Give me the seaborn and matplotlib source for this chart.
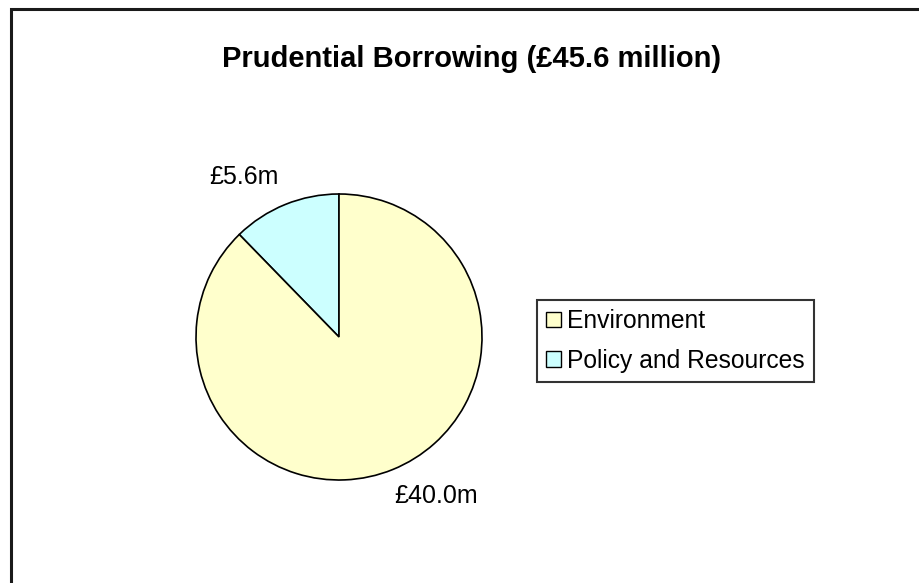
import numpy as np
import matplotlib
matplotlib.use("Agg")
import matplotlib.pyplot as plt
import seaborn as sns
from matplotlib.patches import Patch, Rectangle

# Data
title = "Prudential Borrowing (£45.6 million)"
categories = ["Environment", "Policy and Resources"]
values = [40.0, 5.6]
value_labels = ["£40.0m", "£5.6m"]
colors = ["#FFFFCC", "#CCFFFF"]

sns.set_theme(style="white")
plt.rcParams["font.family"] = ["Liberation Sans", "DejaVu Sans"]
plt.rcParams["text.color"] = "black"

W, H = 919, 583
fig = plt.figure(figsize=(W / 100, H / 100), dpi=100)
fig.patch.set_facecolor("white")

# Outer chart frame (only top and left edges fall inside the canvas)
fig.add_artist(Rectangle((11 / W, -0.5), 1.5, 0.5 + 1 - 9 / H,
                         transform=fig.transFigure, fill=False,
                         edgecolor="#1a1a1a", linewidth=2.2))

# Pie axes: centre (339, 337) px, radius 143 px, limits +-1.4
cx, cy, r = 339, 337, 143
lim = 1.4
half = r * lim
ax = fig.add_axes([(cx - half) / W, (H - cy - half) / H, 2 * half / W, 2 * half / H])
ax.set_xlim(-lim, lim)
ax.set_ylim(-lim, lim)
ax.set_aspect("equal")
ax.axis("off")

# Draw the smaller slice first so it sits just left of 12 o'clock
order = [1, 0]
wedges, _ = ax.pie([values[i] for i in order],
                   colors=[colors[i] for i in order],
                   startangle=90, counterclock=True, radius=1,
                   wedgeprops=dict(edgecolor="black", linewidth=1.2))
ax.set_xlim(-lim, lim)
ax.set_ylim(-lim, lim)

# Value labels placed just outside each wedge
shifts = {1: 8.5, 0: 9.3}
for w, i in zip(wedges, order):
    mid = np.deg2rad((w.theta1 + w.theta2) / 2 + shifts[i])
    d = 1.3
    ax.text(d * np.cos(mid), d * np.sin(mid), value_labels[i],
            ha="center", va="center", fontsize=18, color="black")

fig.text(472 / W, 1 - 59 / H, title, ha="center", va="center",
         fontsize=21, fontweight="bold", color="black")

handles = [Patch(facecolor=c, edgecolor="black", linewidth=1.0) for c in colors]
leg = fig.legend(handles, categories, loc="upper left",
                 bbox_to_anchor=(537 / W, 1 - 300 / H),
                 fontsize=17.7, frameon=True, fancybox=False,
                 handlelength=0.6, handleheight=0.6, handletextpad=0.25,
                 borderpad=0.38, labelspacing=0.62, borderaxespad=0,
                 labelcolor="black")
leg.get_frame().set_edgecolor("black")
leg.get_frame().set_linewidth(1.5)

fig.savefig("out.png", dpi=100, facecolor="white")
